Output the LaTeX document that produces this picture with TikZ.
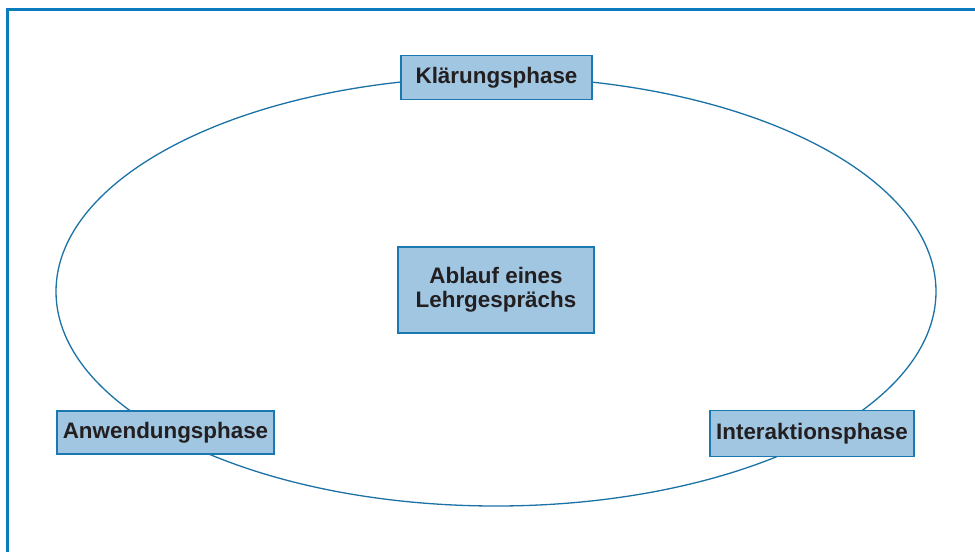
\documentclass[tikz,border=0pt]{standalone}
\usepackage{fontspec}
\setmainfont{Liberation Sans}
\definecolor{frameblue}{HTML}{0A7BBD}
\definecolor{lineblue}{HTML}{1A72A6}
\definecolor{boxfill}{HTML}{A0C6E2}
\definecolor{boxdraw}{HTML}{1C78B0}
\definecolor{txt}{HTML}{231F20}
\begin{document}
\begin{tikzpicture}[x=1pt,y=-1pt,
  phase/.style={draw=boxdraw,fill=boxfill,line width=1.4pt,inner sep=0pt,
    font=\bfseries\fontsize{22.4}{23.5}\selectfont,text=txt,align=center}]
\useasboundingbox (0,0) rectangle (975,552);
\draw[frameblue,line width=3pt] (7.5,552) -- (7.5,9) -- (975,9);
\draw[lineblue,line width=1.3pt] (496,291.5) ellipse [x radius=440,y radius=214.5];
\node[phase,minimum width=191pt,minimum height=44pt] (k) at (496.5,77.5) {Klärungsphase};
\node[phase,minimum width=196pt,minimum height=86pt] (c) at (496,290) {Ablauf eines\\Lehrgesprächs};
\node[phase,minimum width=217pt,minimum height=43pt] (a) at (165.5,432.5) {Anwendungsphase};
\node[phase,minimum width=204pt,minimum height=46pt] (i) at (812,433.5) {Interaktionsphase};
\end{tikzpicture}
\end{document}
